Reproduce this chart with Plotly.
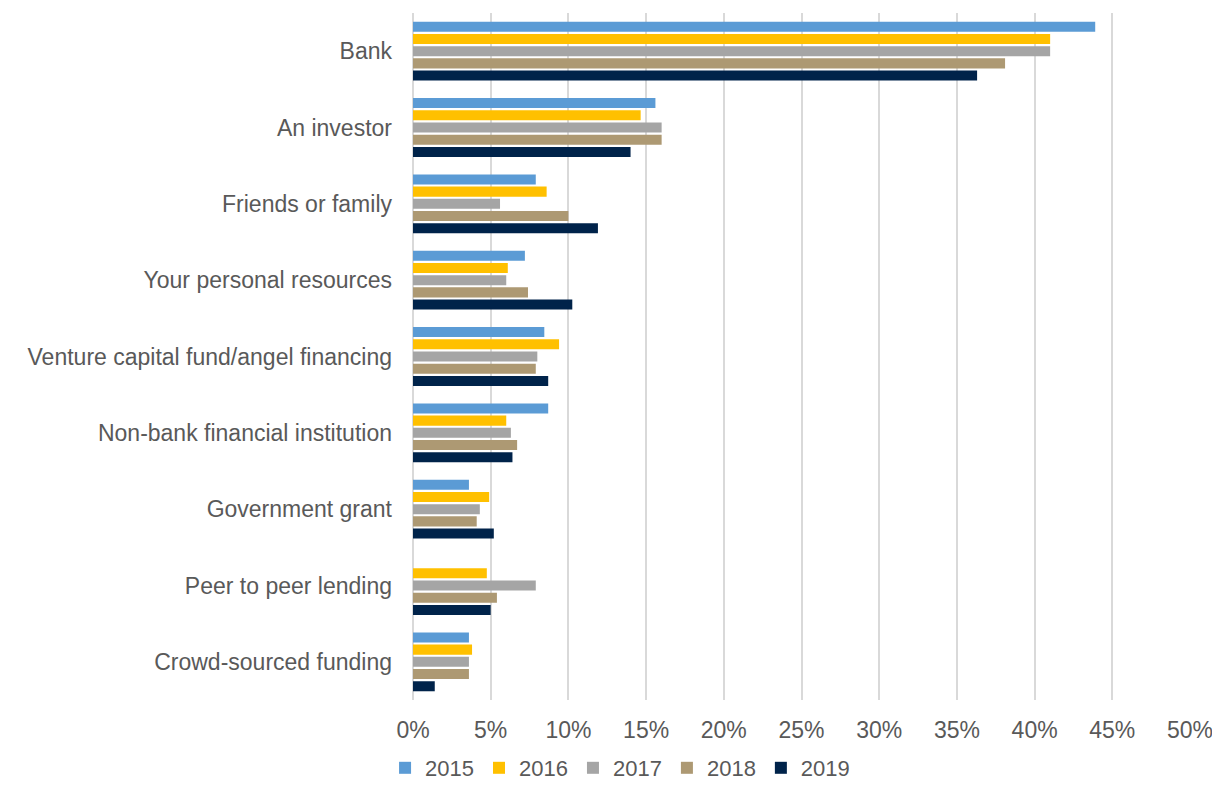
import plotly.graph_objects as go

categories = ["Bank", "An investor", "Friends or family", "Your personal resources",
              "Venture capital fund/angel financing", "Non-bank financial institution",
              "Government grant", "Peer to peer lending", "Crowd-sourced funding"]

v2015 = [43.9, 15.6, 7.9, 7.2, 8.45, 8.7, 3.6, 0, 3.6]
v2016 = [41.0, 14.65, 8.6, 6.1, 9.4, 6.0, 4.9, 4.75, 3.8]
v2017 = [41.0, 16.0, 5.6, 6.0, 8.0, 6.3, 4.3, 7.9, 3.6]
v2018 = [38.1, 16.0, 10.0, 7.4, 7.9, 6.7, 4.1, 5.4, 3.6]
v2019 = [36.3, 14.0, 11.9, 10.25, 8.7, 6.4, 5.2, 5.0, 1.4]

series = [("2015", v2015, "#5B9BD5"), ("2016", v2016, "#FFC000"),
          ("2017", v2017, "#A5A5A5"), ("2018", v2018, "#AD9973"),
          ("2019", v2019, "#00234A")]

fig = go.Figure()
for name, vals, col in series:
    fig.add_trace(go.Bar(
        y=categories, x=[v / 100 for v in vals], name=name, orientation="h",
        marker_color=col, marker_line_width=0
    ))

# page body has an 8px margin, so the figure is a bit smaller than the window
fig.update_layout(
    width=1212, height=781,
    barmode="group", bargap=0.2, bargroupgap=0.18,
    plot_bgcolor="white", paper_bgcolor="white",
    font=dict(family="Liberation Sans, Arial, sans-serif", size=23, color="#595959"),
    margin=dict(l=405, r=30, t=5, b=89),
    legend=dict(orientation="h", xref="container", x=0.505, xanchor="center",
                yref="container", y=0.0, yanchor="bottom",
                font=dict(size=22, color="#595959"), traceorder="normal",
                itemwidth=30),
    showlegend=True,
)
fig.update_xaxes(range=[0, 0.5], dtick=0.05, tickformat=".0%",
                 showgrid=True, gridcolor="#D9D9D9", gridwidth=2,
                 zeroline=True, zerolinecolor="#D9D9D9", zerolinewidth=2,
                 ticks="", ticklabelstandoff=14)
fig.update_yaxes(autorange="reversed", showgrid=False, ticks="",
                 ticklabelstandoff=20)

fig.write_html("out.html")
